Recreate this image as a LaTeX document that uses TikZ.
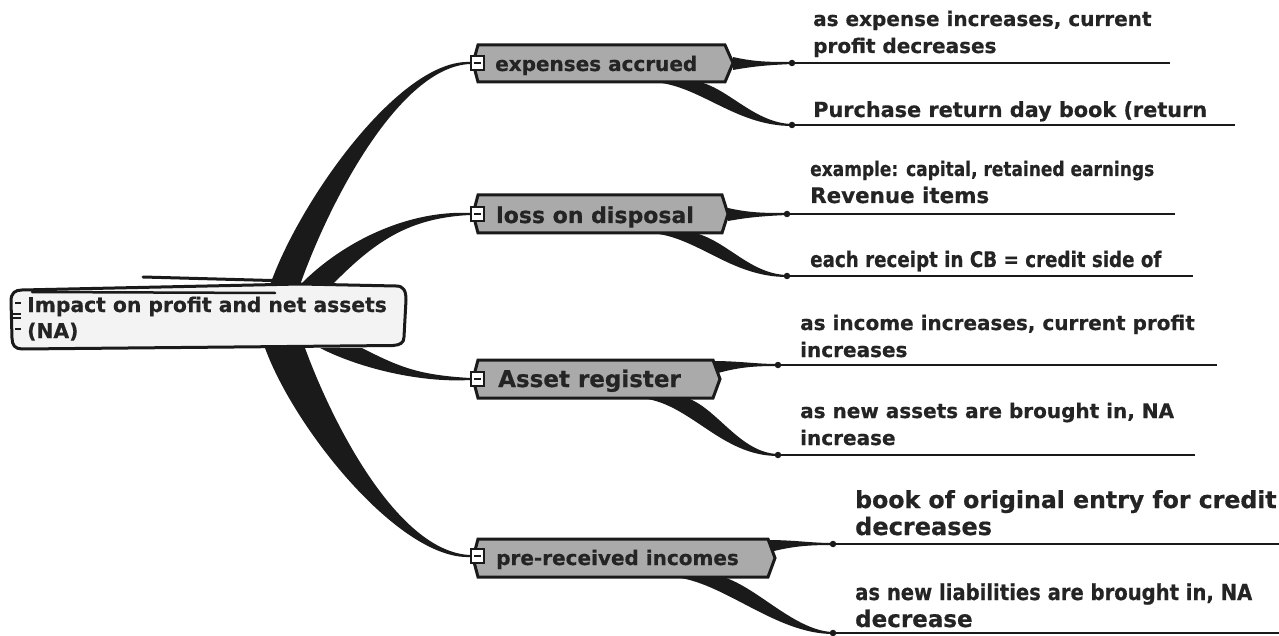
\documentclass[tikz,border=0pt]{standalone}
\usepackage{fontspec}
\setmainfont{DejaVu Sans}[BoldFeatures={FakeBold=0.6}]
\newfontfamily\condfont{DejaVu Sans}[FakeStretch=0.85, BoldFeatures={FakeBold=0.6}]
\newfontfamily\narrowfont{DejaVu Sans}[FakeStretch=0.89, BoldFeatures={FakeBold=0.6}]
\usetikzlibrary{calc}

\definecolor{ink}{HTML}{1A1A1A}
\definecolor{txt}{HTML}{242424}
\definecolor{branchgray}{HTML}{AAAAAA}
\definecolor{rootfill}{HTML}{F3F3F3}

\tikzset{
  rootbox/.style={draw=ink, fill=rootfill, line width=3pt, line join=round},
  sketch/.style={draw=ink, line width=3pt, line cap=round},
  hexbox/.style={draw=ink, fill=branchgray, line width=3pt, line join=miter},
  roottext/.style={font=\bfseries\fontsize{20.3}{26}\selectfont, text=txt, inner sep=0pt, align=left, anchor=base west},
  branchtext/.style={font=\bfseries\fontsize{#1}{24}\selectfont, text=txt, inner sep=0pt, anchor=base west},
  leaftext/.style={font=\bfseries\fontsize{#1}{27}\selectfont, text=txt, inner sep=0pt, align=left, anchor=base west},
  minusbox/.style={draw=ink, fill=white, line width=1.2pt, minimum width=13pt, minimum height=14pt, inner sep=0pt,
    path picture={\draw[ink, line width=1.8pt] ([xshift=3pt]path picture bounding box.west) -- ([xshift=-3pt]path picture bounding box.east);}},
  leafline/.style={draw=ink, line width=2pt},
  leafdot/.style={fill=ink, circle, inner sep=0pt, minimum size=6.5pt},
}

% tapered connector: start, control 1, control 2, end, half width at start, offset at control 2, offset at end
\newcommand\bandlink[7]{%
  \fill[ink] ($(#1)+(#5)$) .. controls ($(#2)+(#5)$) and ($(#3)+(#6)$) .. ($(#4)+(#7)$)
    -- ($(#4)-(#7)$) .. controls ($(#3)-(#6)$) and ($(#2)-(#5)$) .. ($(#1)-(#5)$) -- cycle;}

\begin{document}
\begin{tikzpicture}[x=1pt, y=-1pt]
\useasboundingbox (0,0) rectangle (1279,636);

% ---------- anchor points ----------
\coordinate (r1) at (285,285);
\coordinate (r2) at (316,285);
\coordinate (r3) at (341,348);
\coordinate (r4) at (285,348);
\coordinate (b1in) at (470,63);
\coordinate (b2in) at (470,214);
\coordinate (b3in) at (470,379);
\coordinate (b4in) at (470,556);
\coordinate (d1a) at (792,63);
\coordinate (d1b) at (792,125);
\coordinate (d2a) at (787,214);
\coordinate (d2b) at (787,276);
\coordinate (d3a) at (778,365);
\coordinate (d3b) at (778,455);
\coordinate (d4a) at (833,544);
\coordinate (d4b) at (833,633);

% ---------- links from the central topic ----------
\bandlink{r1}{315,200}{400,63}{b1in}{15,0}{0,4}{0,1}
\bandlink{r2}{360,240}{410,214}{b2in}{16,0}{0,4}{0,1}
\bandlink{r3}{380,368}{420,379}{b3in}{21,0}{0,-4}{0,-1}
\bandlink{r4}{315,430}{400,556}{b4in}{20,0}{0,-4}{0,-1}

% ---------- links to the subtopics ----------
% expenses accrued
\fill[ink] (733,57) .. controls (755,62) and (770,62) .. ($(d1a)+(0,-1)$) -- ($(d1a)+(0,1)$) .. controls (770,65) and (755,66) .. (733,70) -- cycle;
\fill[ink] (653,82) .. controls (700,85) and (735,126) .. ($(d1b)+(0,1)$) -- ($(d1b)+(0,-1)$) .. controls (755,123) and (730,90) .. (700,82) -- cycle;
% loss on disposal
\fill[ink] (728,208) .. controls (750,213) and (765,213) .. ($(d2a)+(0,-1)$) -- ($(d2a)+(0,1)$) .. controls (765,216) and (750,217) .. (728,221) -- cycle;
\fill[ink] (650,233) .. controls (697,236) and (730,277) .. ($(d2b)+(0,1)$) -- ($(d2b)+(0,-1)$) .. controls (750,274) and (727,241) .. (695,233) -- cycle;
% Asset register
\fill[ink] (712,361) .. controls (740,361) and (755,364) .. ($(d3a)+(0,-1)$) -- ($(d3a)+(0,1)$) .. controls (755,366) and (740,367) .. (718,373) -- cycle;
\fill[ink] (640,398) .. controls (690,402) and (720,456) .. ($(d3b)+(0,1)$) -- ($(d3b)+(0,-1)$) .. controls (740,453) and (717,408) .. (687,398) -- cycle;
% pre-received incomes
\fill[ink] (767,540) .. controls (795,540) and (810,543) .. ($(d4a)+(0,-1)$) -- ($(d4a)+(0,1)$) .. controls (810,545) and (795,546) .. (774,551) -- cycle;
\fill[ink] (673,577) .. controls (723,581) and (775,634) .. ($(d4b)+(0,1)$) -- ($(d4b)+(0,-1)$) .. controls (795,631) and (757,587) .. (723,577) -- cycle;

% ---------- central topic ----------
\draw[rootbox] (22,290) -- (300,284) -- (396,286)
  .. controls (404,286) and (406,291) .. (406,300) -- (404,337)
  .. controls (404,343) and (400,345) .. (393,345.5) -- (22,349)
  .. controls (15,349) and (12,345) .. (12,338) -- (11,301)
  .. controls (11,293) and (15,290) .. (22,290) -- cycle;
\draw[sketch] (143,277) -- (290,281);
\draw[sketch, line width=2.5pt] (32,292) -- (275,293);
\draw[ink, line width=1.3pt] (15,303) -- (21,303) (13,314) -- (21,314) (13,318) -- (21,318) (15,329) -- (21,329);
\node[roottext] (root) at (27,338) {Impact on profit and net assets\\(NA)};

% ---------- main topics ----------
\draw[hexbox] (473,63) -- (478,45) -- (725,45) -- (733,63) -- (725,82) -- (478,82) -- cycle;
\draw[hexbox] (473,214) -- (478,195) -- (722,195) -- (728,214) -- (722,233) -- (478,233) -- cycle;
\draw[hexbox] (473,379) -- (478,360) -- (713,360) -- (720,379) -- (713,398) -- (478,398) -- cycle;
\draw[hexbox] (473,558) -- (478,539) -- (768,539) -- (775,558) -- (768,577) -- (478,577) -- cycle;

\node[branchtext=20] (b1) at (495,71) {expenses accrued};
\node[branchtext=22] (b2) at (496,223) {loss on disposal};
\node[branchtext=23] (b3) at (498,387) {Asset register};
\node[branchtext=20] (b4) at (496,565) {pre-received incomes};

\node[minusbox] (m1) at (477.5,63) {};
\node[minusbox] (m2) at (477.5,214) {};
\node[minusbox] (m3) at (477.5,379) {};
\node[minusbox] (m4) at (477.5,556) {};

% ---------- subtopics ----------
\draw[leafline] (d1a) -- (1170,63);
\draw[leafline] (d1b) -- (1235,125);
\draw[leafline] (d2a) -- (1175,214);
\draw[leafline] (d2b) -- (1193,276);
\draw[leafline] (d3a) -- (1217,365);
\draw[leafline] (d3b) -- (1195,455);
\draw[leafline] (d4a) -- (1279,544);
\draw[leafline] (d4b) -- (1279,633);
\foreach \d in {d1a,d1b,d2a,d2b,d3a,d3b,d4a,d4b} \node[leafdot] at (\d) {};

\node[leaftext=20] (t1a) at (813,53) {as expense increases, current\\profit decreases};
\node[leaftext=20.8] (t1b) at (813,117) {Purchase return day book (return};
\node[leaftext=20] (t2a) at (810,203) {{\condfont\bfseries example: capital, retained earnings}\\{\fontsize{21.4}{27}\selectfont Revenue items}};
\node[leaftext=21.5] (t2b) at (810,267) {\condfont\bfseries each receipt in CB = credit side of};
\node[leaftext=20] (t3a) at (800,357) {as income increases, current profit\\increases};
\node[leaftext=20] (t3b) at (800,445) {as new assets are brought in, NA\\increase};
\node[leaftext=23.6] (t4a) at (855,535) {book of original entry for credit\\{\fontsize{24}{27}\selectfont decreases}};
\node[leaftext=22] (t4b) at (855,627) {{\narrowfont\bfseries as new liabilities are brought in, NA}\\{\fontsize{23}{27}\selectfont decrease}};
\end{tikzpicture}
\end{document}
